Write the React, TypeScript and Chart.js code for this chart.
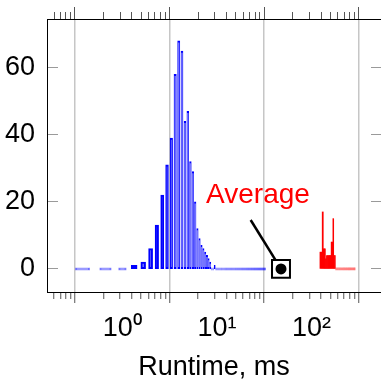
import React, { useEffect, useRef } from 'react';
import { Chart, registerables } from 'chart.js';

Chart.register(...registerables);

// ---- data (runtime histogram, linear bins shown on a log axis) ----
const blueBinStart = 0.38; // ms, centre of first bin
const blueBinWidth = 0.325; // ms
const blueCounts = [
  0, 0, 0, 1, 2, 6, 13, 22, 31, 39,
  58, 68, 65, 44, 47, 32, 29, 20, 12, 9,
  7, 6, 5, 4, 3, 2, 0, 0, 1, 0,
  0, 0, 0, 0, 0, 0, 0, 0, 0, 0,
  0, 0, 0, 0, 0, 0, 0, 0, 0, 0,
  0, 0, 0, 0, 0, 0, 0, 0, 0, 0,
  0, 0, 0, 0, 0, 0, 0, 0, 0, 0,
  0, 0, 0, 0, 0, 0, 0, 0, 0, 0,
  0, 0, 0, 0, 0, 0, 0, 0, 0, 0,
  0, 0, 0, 0, 0, 0, 0, 0, 0, 0,
];
const redBinStart = 124.5; // ms
const redBinWidth = 3.5; // ms
const redCounts = [
  5, 5, 17, 6, 6, 3, 4, 4, 4, 4,
  4, 8, 8, 15, 4, 4, 0, 0, 0, 0,
  0, 0, 0, 0, 0, 0, 0, 0, 0, 0,
  0, 0, 0, 0, 0, 0, 0, 0, 0, 0,
  0, 0, 0, 0, 0, 0, 0, 0,
];
const averageRuntime = 47.6; // ms
const averageLabel = 'Average';
const pinEnd = { x: 22.75, y: 14.6 };

const xMajorTicks = [0.31623, 3.1623, 31.623, 316.23];
const xLabelTicks = [1, 10, 100];
const xTickLabels = ['10⁰', '10¹', '10²'];
const yTicks = [0, 20, 40, 60];
const xMin = 0.16;
const xMax = 543;
const yMin = -6.9;
const yMax = 74.6;
const xTitle = 'Runtime, ms';

const FONT = '"Liberation Sans", Arial, sans-serif';

function buildXTicks(withLabels: boolean) {
  const ticks: any[] = [];
  const decades = [xMajorTicks[0] / 10, ...xMajorTicks];
  for (const d of decades) {
    for (let m = 1; m <= 9; m++) {
      const v = d * m;
      if (v < xMin || v > xMax) continue;
      ticks.push({ value: v, kind: m === 1 ? 'major' : 'minor', lbl: '' });
    }
  }
  if (withLabels) {
    xLabelTicks.forEach((v, i) => ticks.push({ value: v, kind: 'label', lbl: xTickLabels[i] }));
  }
  ticks.sort((a, b) => a.value - b.value);
  return ticks;
}

function zeroPad(s: any) {
  s.paddingLeft = 0;
  s.paddingRight = 0;
  s.paddingTop = 0;
  s.paddingBottom = 0;
}

const averageLabelPlugin = {
  id: 'averageLabel',
  afterDatasetsDraw(chart: any) {
    const ctx = chart.ctx;
    const px = chart.scales.x.getPixelForValue(averageRuntime);
    const py = chart.scales.y.getPixelForValue(0);
    ctx.save();
    ctx.font = `28px ${FONT}`;
    ctx.fillStyle = '#ff0000';
    ctx.textAlign = 'center';
    ctx.textBaseline = 'alphabetic';
    ctx.fillText(averageLabel, px - 23, py - 65.5);
    ctx.restore();
  },
};

export default function App() {
  const canvasRef = useRef<HTMLCanvasElement | null>(null);

  useEffect(() => {
    if (!canvasRef.current) return;
    Chart.defaults.font.family = FONT;
    Chart.defaults.color = '#000';

    const blueData = blueCounts.map((c, i) => ({ x: blueBinStart + i * blueBinWidth, y: c }));
    const redData = redCounts.map((c, i) => ({ x: redBinStart + i * redBinWidth, y: c }));
    const isZero = (c: any) => c.raw && c.raw.y === 0;

    const chart = new Chart(canvasRef.current, {
      type: 'bar',
      data: {
        datasets: [
          {
            type: 'bar',
            label: 'fast',
            data: blueData,
            stack: 'h',
            barThickness: 'flex',
            categoryPercentage: 1,
            barPercentage: 0.55,
            inflateAmount: 0.5,
            borderWidth: 1,
            borderSkipped: false,
            minBarLength: 2,
            backgroundColor: (c: any) => (isZero(c) ? 'rgba(0,0,255,0.45)' : 'rgba(0,0,255,0.55)'),
            borderColor: (c: any) => (isZero(c) ? 'rgba(0,0,255,0.45)' : '#0000ff'),
            order: 5,
          } as any,
          {
            type: 'bar',
            label: 'slow',
            data: redData,
            stack: 'h',
            barThickness: 'flex',
            categoryPercentage: 1,
            barPercentage: 1,
            borderWidth: 0,
            minBarLength: 2,
            backgroundColor: (c: any) => (isZero(c) ? 'rgba(255,0,0,0.3)' : '#ff0000'),
            order: 4,
          } as any,
          {
            type: 'line',
            label: 'pin',
            data: [{ x: averageRuntime, y: 0 }, pinEnd],
            borderColor: '#000',
            borderWidth: 2.5,
            pointRadius: 0,
            pointHoverRadius: 0,
            fill: false,
            order: 3,
          } as any,
          {
            type: 'line',
            label: 'avg-box',
            data: [{ x: averageRuntime, y: 0 }],
            showLine: false,
            pointStyle: 'rect',
            pointRadius: 12.7,
            pointBorderWidth: 2,
            pointBorderColor: '#000',
            pointBackgroundColor: '#fff',
            order: 2,
          } as any,
          {
            type: 'line',
            label: 'avg-dot',
            data: [{ x: averageRuntime, y: 0 }],
            showLine: false,
            pointStyle: 'circle',
            pointRadius: 5.5,
            pointBorderWidth: 0,
            pointBackgroundColor: '#000',
            order: 1,
          } as any,
        ],
      },
      options: {
        animation: false,
        responsive: false,
        maintainAspectRatio: false,
        devicePixelRatio: 1,
        layout: { padding: 0, autoPadding: false },
        plugins: { legend: { display: false }, tooltip: { enabled: false } },
        scales: {
          x: {
            type: 'logarithmic',
            position: 'bottom',
            min: xMin,
            max: xMax,
            bounds: 'data',
            offset: false,
            afterBuildTicks: (s: any) => {
              s.ticks = buildXTicks(true);
            },
            afterFit: (s: any) => {
              s.height = 89;
              zeroPad(s);
            },
            grid: {
              offset: false,
              drawOnChartArea: true,
              drawTicks: true,
              tickLength: 11,
              lineWidth: 1.5,
              color: (c: any) => (c.tick && c.tick.kind === 'major' ? '#c6c6c6' : 'rgba(0,0,0,0)'),
              tickColor: (c: any) => (c.tick && c.tick.kind !== 'label' ? '#555' : 'rgba(0,0,0,0)'),
              tickWidth: 1,
              tickBorderDash: (c: any) => (c.tick && c.tick.kind === 'minor' ? [6, 40] : []),
            },
            border: { display: true, color: '#000', width: 1 },
            ticks: {
              autoSkip: false,
              maxRotation: 0,
              minRotation: 0,
              padding: 12,
              color: '#000',
              font: { size: 27, family: FONT, lineHeight: 1 },
              callback: (_v: any, i: number, ticks: any[]) => ticks[i].lbl || '',
            },
            title: {
              display: true,
              text: xTitle,
              color: '#000',
              font: { size: 27, family: FONT, lineHeight: 1 },
              padding: 0,
            },
          },
          xTop: {
            type: 'logarithmic',
            position: 'top',
            min: xMin,
            max: xMax,
            bounds: 'data',
            offset: false,
            afterBuildTicks: (s: any) => {
              s.ticks = buildXTicks(false);
            },
            afterFit: (s: any) => {
              s.height = 19;
              zeroPad(s);
            },
            grid: {
              offset: false,
              drawOnChartArea: false,
              drawTicks: true,
              tickLength: 12,
              tickColor: '#555',
              tickWidth: 1,
              tickBorderDash: (c: any) => (c.tick && c.tick.kind === 'minor' ? [0, 5, 7, 40] : []),
            },
            border: { display: true, color: '#000', width: 1 },
            ticks: { display: false, autoSkip: false, maxRotation: 0 },
          },
          y: {
            type: 'linear',
            position: 'left',
            min: yMin,
            max: yMax,
            stacked: false,
            afterBuildTicks: (s: any) => {
              s.ticks = yTicks.map((v) => ({ value: v }));
            },
            afterFit: (s: any) => {
              s.width = 47;
              zeroPad(s);
            },
            grid: {
              drawOnChartArea: false,
              drawTicks: true,
              tickLength: -11,
              tickColor: '#9a9a9a',
              tickWidth: 1,
            },
            border: { display: true, color: '#000', width: 1 },
            ticks: {
              padding: 23,
              color: '#000',
              font: { size: 27, family: FONT, lineHeight: 1 },
              callback: (v: any) => String(v),
            },
          },
          y2: {
            type: 'linear',
            position: 'right',
            min: yMin,
            max: yMax,
            afterBuildTicks: (s: any) => {
              s.ticks = yTicks.map((v) => ({ value: v }));
            },
            afterFit: (s: any) => {
              s.width = 0;
              zeroPad(s);
            },
            grid: {
              drawOnChartArea: false,
              drawTicks: true,
              tickLength: -10,
              tickColor: '#9a9a9a',
              tickWidth: 1,
            },
            border: { display: false },
            ticks: { display: false },
          },
        } as any,
      },
      plugins: [averageLabelPlugin],
    } as any);

    return () => chart.destroy();
  }, []);

  return (
    <div style={{ position: 'fixed', left: 0, top: 0, width: 381, height: 381, background: '#fff' }}>
      <canvas ref={canvasRef} width={381} height={381} style={{ width: 381, height: 381 }} />
    </div>
  );
}
